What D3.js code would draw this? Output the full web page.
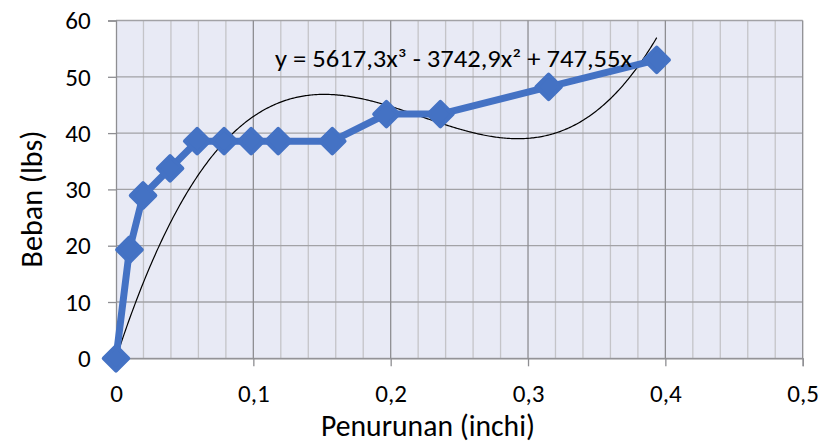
<!DOCTYPE html>
<html><head><meta charset="utf-8">
<script src="https://cdn.jsdelivr.net/npm/d3@7"></script>
<style>body{margin:0;background:#fff}</style></head>
<body><svg id="c" width="820" height="445"></svg>
<script>
const xValues = [0, 0.0098, 0.0197, 0.0394, 0.0591, 0.0787, 0.0984, 0.1181, 0.1575, 0.1969, 0.2362, 0.3150, 0.3937];
const yValues = [0, 19.28, 28.92, 33.74, 38.56, 38.56, 38.56, 38.56, 38.56, 43.38, 43.38, 48.2, 53.02];
const trendCoef = [0, 747.55, -3742.9, 5617.3];
const xTicks = [0, 0.1, 0.2, 0.3, 0.4, 0.5];
const xMinor = [0.02,0.04,0.06,0.08,0.12,0.14,0.16,0.18,0.22,0.24,0.26,0.28,0.32,0.34,0.36,0.38,0.42,0.44,0.46,0.48];
const yTicks = [0, 10, 20, 30, 40, 50, 60];
const equation = "y = 5617,3x³ - 3742,9x² + 747,55x";

const svg = d3.select("#c");
const L = 116, R = 802.7, T = 20.5, B = 358.3;
const x = d3.scaleLinear().domain([0, 0.5]).range([L, R]);
const y = d3.scaleLinear().domain([0, 60]).range([B, T]);
const font = "Carlito, Lato, sans-serif";

// font size that makes a string reach a given width
function fitSize(str, target) {
  const t = svg.append("text").style("font-family", font).style("font-size", "100px").text(str);
  const w = t.node().getComputedTextLength();
  t.remove();
  return 100 * target / w;
}

svg.append("rect").attr("x", L).attr("y", T).attr("width", R - L).attr("height", B - T).attr("fill", "#E8EAF5");

svg.append("g").selectAll("line").data(xMinor).join("line")
  .attr("x1", d => x(d)).attr("x2", d => x(d)).attr("y1", T).attr("y2", B)
  .attr("stroke", "#C4C4C8").attr("stroke-width", 1.3);
svg.append("g").selectAll("line").data(yTicks).join("line")
  .attr("x1", L).attr("x2", R).attr("y1", d => y(d)).attr("y2", d => y(d))
  .attr("stroke", "#A2A2A6").attr("stroke-width", 1.3);
svg.append("g").selectAll("line").data(xTicks.slice(1)).join("line")
  .attr("x1", d => x(d)).attr("x2", d => x(d)).attr("y1", T).attr("y2", B)
  .attr("stroke", "#8E8E92").attr("stroke-width", 1.3);

const tickSize = fitSize("0,2", 31.7);
// axes
const xAxis = svg.append("g").attr("transform", `translate(0,${B})`)
  .call(d3.axisBottom(x).tickValues(xTicks).tickSize(8).tickFormat(d => d === 0 ? "0" : d3.format(".1f")(d).replace(".", ",")));
const yAxis = svg.append("g").attr("transform", `translate(${L},0)`)
  .call(d3.axisLeft(y).tickValues(yTicks).tickSize(8));
[xAxis, yAxis].forEach(a => {
  a.attr("font-family", null).attr("font-size", null);
  a.select(".domain").attr("stroke", "#8E8E92").attr("stroke-width", 1.3);
  a.selectAll(".tick line").attr("stroke", "#8E8E92").attr("stroke-width", 1.3);
  a.selectAll(".tick text").attr("fill", "#000").style("font-family", font).style("font-size", tickSize + "px");
});
xAxis.selectAll(".tick text").attr("y", 43.4).attr("dy", null);
yAxis.selectAll(".tick text").attr("x", -25.3).attr("dy", "0.33em");

// trendline
const tx = d3.range(0, 400).map(i => i / 399 * d3.max(xValues));
const f = v => trendCoef.reduce((s, c, i) => s + c * Math.pow(v, i), 0);
svg.append("path").datum(tx)
  .attr("d", d3.line().x(d => x(d)).y(d => y(f(d))))
  .attr("fill", "none").attr("stroke", "#000").attr("stroke-width", 1.2);

// series
const pts = xValues.map((v, i) => [v, yValues[i]]);
svg.append("path").datum(pts)
  .attr("d", d3.line().x(d => x(d[0])).y(d => y(d[1])))
  .attr("fill", "none").attr("stroke", "#4472C4").attr("stroke-width", 7).attr("stroke-linejoin", "round");
svg.append("g").selectAll("path").data(pts).join("path")
  .attr("transform", d => `translate(${x(d[0])},${y(d[1])}) rotate(45)`)
  .attr("d", d3.symbol().type(d3.symbolSquare).size(300))
  .attr("fill", "#4472C4").attr("stroke", "#4472C4").attr("stroke-width", 4).attr("stroke-linejoin", "round");

// equation
svg.append("text").attr("x", 275).attr("y", 67).text(equation)
  .style("font-family", font).style("font-size", "24px").attr("fill", "#000")
  .attr("textLength", 357).attr("lengthAdjust", "spacingAndGlyphs");

// axis titles
const titleX = "Penurunan (inchi)", titleY = "Beban (lbs)";
svg.append("text").attr("x", 428).attr("y", 436).attr("text-anchor", "middle").text(titleX)
  .style("font-family", font).style("font-size", fitSize(titleX, 214) + "px");
svg.append("text").attr("transform", "translate(41.5,199) rotate(-90)").attr("text-anchor", "middle").text(titleY)
  .style("font-family", font).style("font-size", fitSize(titleY, 137) + "px");
</script></body></html>
